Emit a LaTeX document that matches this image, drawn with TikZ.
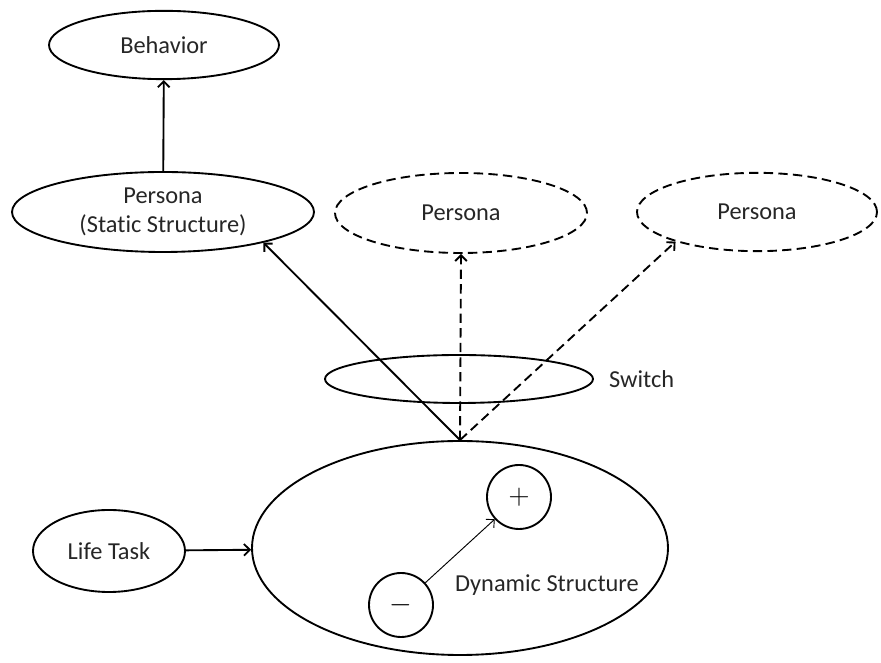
\documentclass[tikz,border=0pt]{standalone}
\usepackage{fontspec}
\setmainfont{Carlito}[Ligatures=NoCommon]
\usepackage{tikz}
\usetikzlibrary{shapes.geometric, arrows, arrows.meta, positioning}

\begin{document}
\begin{tikzpicture}[
    oval/.style={draw, ellipse, line width=1.6pt, inner sep=0pt, align=center, text=black!85, font=\fontsize{20.8pt}{25pt}\selectfont},
    ghost/.style={oval, dash pattern=on 8pt off 4.5pt},
    sign/.style={draw, circle, line width=1.6pt, inner sep=0pt, minimum size=1.92cm, font=\fontsize{26pt}{30pt}\selectfont},
    tag/.style={inner sep=0pt, text=black!85, font=\fontsize{20.8pt}{25pt}\selectfont},
    arrow/.style={->, line width=1.6pt, >={Straight Barb[length=5pt, width=10pt]}}
]
    \useasboundingbox (0,0) rectangle (26.43,19.89);

    \node[oval, minimum width=6.9cm, minimum height=2.05cm] (behavior) at (4.92, 18.54) {Behavior};
    \node[oval, minimum width=9.06cm, minimum height=2.4cm] (persona) at (4.89, 13.53) {Persona\\(Static Structure)};
    \node[ghost, minimum width=7.56cm, minimum height=2.4cm] (alt1) at (13.83, 13.50) {Persona};
    \node[ghost, minimum width=7.2cm, minimum height=2.35cm] (alt2) at (22.71, 13.53) {Persona};

    \node[oval, minimum width=8.04cm, minimum height=1.44cm] (switch) at (13.77, 8.52) {};
    \node[tag, right=0.45cm of switch] (switchlbl) {Switch};

    \node[oval, minimum width=12.48cm, minimum height=6.42cm] (dyn) at (13.8, 3.45) {};
    \node[sign] (plus) at (15.57, 4.98) {$+$};
    \node[sign] (minus) at (12.03, 1.74) {$-$};
    \node[tag] (dynlbl) at (16.41, 2.34) {Dynamic Structure};

    \node[oval, minimum width=4.56cm, minimum height=2.46cm] (task) at (3.27, 3.36) {Life Task};

    \draw[arrow] (persona) -- (behavior);
    \draw[arrow] (dyn.north) -- (persona.-17.5);
    \draw[arrow, dash pattern=on 8pt off 4.5pt] (dyn.north) -- (alt1.south);
    \draw[arrow, dash pattern=on 8pt off 4.5pt] (dyn.north) -- (alt2.200);
    \draw[arrow] (task) -- (dyn);
    \draw[arrow, line width=0.8pt] (minus) -- (plus);
\end{tikzpicture}
\end{document}
